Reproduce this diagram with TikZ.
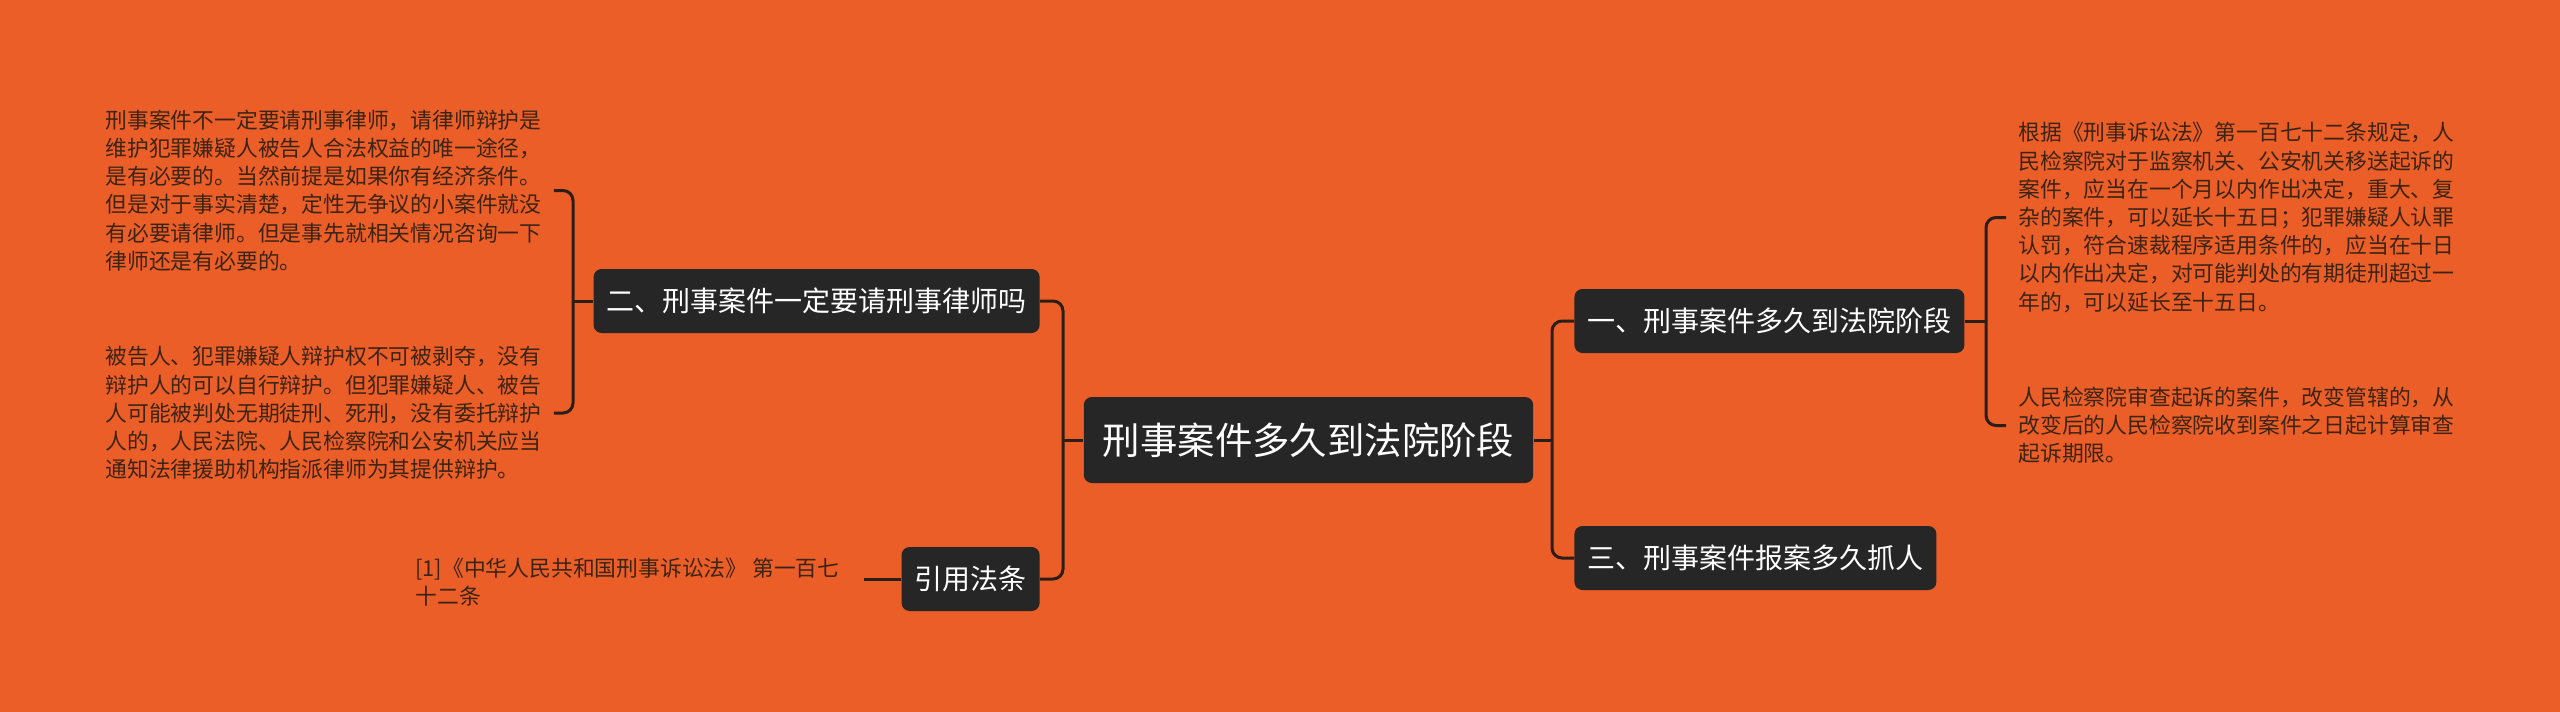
\documentclass[tikz,border=0pt]{standalone}
\usepackage{fontspec}
\newfontfamily\cjk{Noto Sans CJK SC}
\definecolor{bgc}{HTML}{EB5E28}
\definecolor{boxc}{HTML}{262626}
\definecolor{linec}{HTML}{2B1E18}
\definecolor{txtc}{HTML}{3C2415}
\tikzset{
  topic/.style={draw=none, fill=boxc, rounded corners=4pt, text=white,
    font={\cjk\fontsize{14}{16}\selectfont}, inner xsep=6.5pt, inner ysep=0pt,
    minimum height=32pt},
  central/.style={topic, font={\cjk\fontsize{18.7}{21}\selectfont},
    inner xsep=9.5pt, minimum height=43pt},
  leaf/.style={text=txtc, align=left, inner xsep=6pt, inner ysep=0pt,
    font={\cjk\fontsize{10.9}{14.1}\selectfont}},
  conn/.style={draw=linec, line width=1.5pt, rounded corners=5pt}
}
\begin{document}
\begin{tikzpicture}[x=0.5pt,y=-0.5pt]
\useasboundingbox (0,0) rectangle (2560,712);
\fill[bgc] (0,0) rectangle (2560,712);

% main nodes
\node[central] (c) at (1308.5,440) {刑事案件多久到法院阶段};
\node[topic, anchor=east] (n2) at (1040,301) {二、刑事案件一定要请刑事律师吗};
\node[topic, anchor=east] (cite) at (1040,579) {引用法条};
\node[topic, anchor=west] (n1) at (1574,321) {一、刑事案件多久到法院阶段};
\node[topic, anchor=west] (n3) at (1574,558) {三、刑事案件报案多久抓人};

% leaves
\node[leaf, anchor=west] (l1) at (93,190.5) {刑事案件不一定要请刑事律师，请律师辩护是\\维护犯罪嫌疑人被告人合法权益的唯一途径，\\是有必要的。当然前提是如果你有经济条件。\\但是对于事实清楚，定性无争议的小案件就没\\有必要请律师。但是事先就相关情况咨询一下\\律师还是有必要的。};
\node[leaf, anchor=west] (l2) at (93,413) {被告人、犯罪嫌疑人辩护权不可被剥夺，没有\\辩护人的可以自行辩护。但犯罪嫌疑人、被告\\人可能被判处无期徒刑、死刑，没有委托辩护\\人的，人民法院、人民检察院和公安机关应当\\通知法律援助机构指派律师为其提供辩护。};
\node[leaf, anchor=west, inner xsep=12pt] (ct) at (391,582.5) {[1]《中华人民共和国刑事诉讼法》 第一百七\\十二条};
\node[leaf, anchor=west] (r1) at (2006,217.5) {根据《刑事诉讼法》第一百七十二条规定，人\\民检察院对于监察机关、公安机关移送起诉的\\案件，应当在一个月以内作出决定，重大、复\\杂的案件，可以延长十五日；犯罪嫌疑人认罪\\认罚，符合速裁程序适用条件的，应当在十日\\以内作出决定，对可能判处的有期徒刑超过一\\年的，可以延长至十五日。};
\node[leaf, anchor=west] (r2) at (2006,425.5) {人民检察院审查起诉的案件，改变管辖的，从\\改变后的人民检察院收到案件之日起计算审查\\起诉期限。};

% junctions
\coordinate (jl) at (1063,440);
\coordinate (jr) at (1552,440);
\coordinate (bl) at (573,301);
\coordinate (br) at (1986,321);

% connectors
\draw[conn] (jl) -- (c.west);
\draw[conn] (n2.east) -| (jl);
\draw[conn] (cite.east) -| (jl);
\draw[conn] (jr) -- (c.east);
\draw[conn] (n1.west) -| (jr);
\draw[conn] (n3.west) -| (jr);

\draw[conn] (n2.west) -- (bl);
\draw[conn] (bl) |- (l1.east);
\draw[conn] (bl) |- (l2.east);
\draw[conn] (cite.west) -- (cite.west -| ct.east);
\draw[conn] (n1.east) -- (br);
\draw[conn] (br) |- (r1.west);
\draw[conn] (br) |- (r2.west);
\end{tikzpicture}
\end{document}
